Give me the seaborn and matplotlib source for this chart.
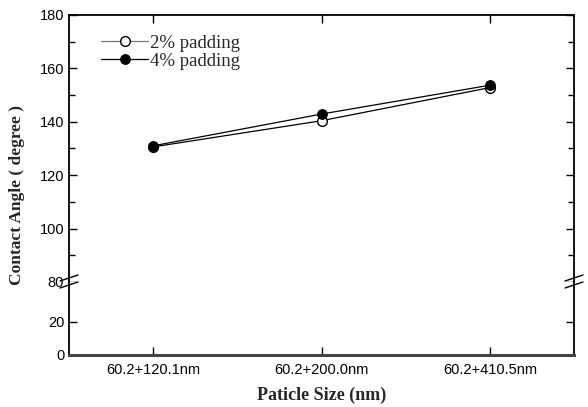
import matplotlib
matplotlib.use("Agg")
import matplotlib.pyplot as plt
import seaborn as sns
import pandas as pd
from matplotlib.ticker import MultipleLocator

categories = ["60.2+120.1nm", "60.2+200.0nm", "60.2+410.5nm"]
pad2 = [130.6, 140.4, 152.8]
pad4 = [131.0, 142.9, 153.7]

sns.set_theme(style="white")
plt.rcParams['font.family'] = ['Liberation Sans', 'DejaVu Sans']

df = pd.DataFrame({"size": categories * 2,
                   "angle": pad2 + pad4,
                   "series": ["2% padding"] * 3 + ["4% padding"] * 3})

fig = plt.figure(figsize=(5.88, 4.07), dpi=100)
L, R = 69 / 588, 574 / 588
top_px, brk_px, bot_px = 15, 282, 355
H = 407
ax = fig.add_axes([L, 1 - brk_px / H, R - L, (brk_px - top_px) / H])
ax2 = fig.add_axes([L, 1 - bot_px / H, R - L, (bot_px - brk_px) / H], sharex=ax)

s2 = df[df.series == "2% padding"]
s4 = df[df.series == "4% padding"]
sns.lineplot(data=s2, x="size", y="angle", ax=ax, color="black", lw=0.9,
             marker="o", markersize=7.0, markerfacecolor="white",
             markeredgecolor="black", markeredgewidth=1.0, label="2% padding",
             sort=False)
sns.lineplot(data=s4, x="size", y="angle", ax=ax, color="black", lw=0.9,
             marker="o", markersize=7.0, markerfacecolor="black",
             markeredgecolor="black", label="4% padding", sort=False)

ax.set_xlim(-0.5, 2.5)
ax.set_ylim(80, 180)
ax2.set_ylim(0, 44)
ax.yaxis.set_major_locator(MultipleLocator(20))
ax.yaxis.set_minor_locator(MultipleLocator(10))
ax2.set_yticks([0, 20])

for a in (ax, ax2):
    a.tick_params(axis="both", which="both", direction="in", labelsize=10.5,
                  colors="black", left=True, right=True)
    a.tick_params(which="major", length=6, width=1)
    a.tick_params(which="minor", length=4, width=1)
    for sp in a.spines.values():
        sp.set_color("black")
        sp.set_linewidth(1.3)
    a.set_xlabel("")
    a.set_ylabel("")

ax.tick_params(axis="x", which="both", top=True, bottom=False, labelbottom=False)
ax.tick_params(axis="y", which="both", labelright=False)
ax.spines["bottom"].set_visible(False)
ax2.spines["top"].set_visible(False)
ax2.spines["bottom"].set_color("#444444")
ax2.spines["bottom"].set_linewidth(2.2)
ax2.tick_params(axis="x", which="both", top=False, bottom=True, pad=6)
ax2.tick_params(axis="y", which="both", labelright=False)

# break marks
for xb in (0.0, 1.0):
    for dy in (-4, 3):
        yb = 1 - (brk_px + dy) / H
        fig.lines.append(plt.Line2D([L + xb * (R - L) - 9 / 588, L + xb * (R - L) + 9 / 588],
                                    [yb - 3 / H, yb + 3 / H], color="black", lw=1.0,
                                    transform=fig.transFigure))

leg = ax.legend(loc="upper left", bbox_to_anchor=(0.038, 0.975), frameon=False,
                prop={"family": "Liberation Serif", "size": 13.5},
                handlelength=2.5, handletextpad=0.1, labelspacing=0.05, borderaxespad=0.3)
leg.get_lines()[0].set_color("#777777")
leg.get_lines()[0].set_markeredgecolor("black")

fig.text(17 / 588, 1 - 195 / H, "Contact Angle ( degree )",
         rotation=90, ha="center", va="center", family="Liberation Serif",
         weight="bold", fontsize=12.5)
fig.text((L + R) / 2, 1 - 395 / H, "Paticle Size (nm)", ha="center", va="center",
         family="Liberation Serif", weight="bold", fontsize=13)

fig.savefig("out.png", dpi=100)
